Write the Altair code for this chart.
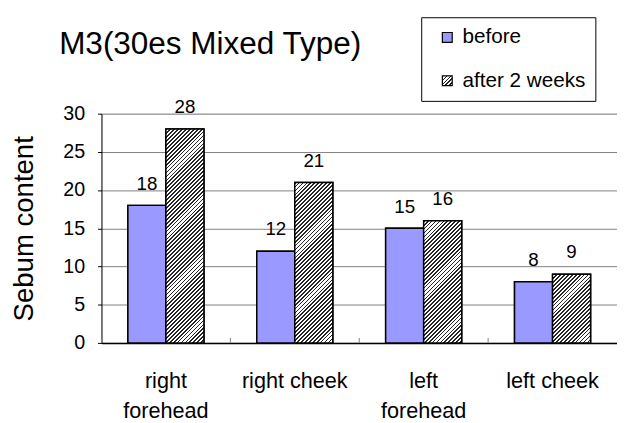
import altair as alt
import pandas as pd

# ---------------- data ----------------
categories = ["right forehead", "right cheek", "left forehead", "left cheek"]
series = ["before", "after 2 weeks"]
before_values = [18, 12, 15, 8]
after_values = [28, 21, 16, 9]
y_ticks = [0, 5, 10, 15, 20, 25, 30]

# ---------------- styles / layout ----------------
FONT = "Liberation Sans"
W, H = 524, 233
Y_MAX = 30
PAD_INNER = 0.41
PAD_OUTER = PAD_INNER / 2
BEFORE_COLOR = "#9999FF"
HATCH_DARK = "#262626"
HATCH_LIGHT = "#ffffff"
HATCH_PERIOD = 4.0
HATCH_DARK_FRAC = 0.45

step = W / len(categories)
bar_w = step * (1 - PAD_INNER) / 2


def hatch(value):
    """Diagonal hatch gradient for one bar (style only)."""
    h = value * H / Y_MAX
    w = bar_w
    unit = w / (w * w + h * h)
    stops = []
    s = 0.0
    smax = w + h
    while s < smax:
        a = round(s * unit, 5)
        b = round(min((s + HATCH_PERIOD * HATCH_DARK_FRAC) * unit, 1.0), 5)
        c = round(min((s + HATCH_PERIOD) * unit, 1.0), 5)
        stops += [
            {"offset": a, "color": HATCH_DARK},
            {"offset": b, "color": HATCH_DARK},
            {"offset": b, "color": HATCH_LIGHT},
            {"offset": c, "color": HATCH_LIGHT},
        ]
        s += HATCH_PERIOD
    return {"gradient": "linear", "x1": 0, "y1": 0, "x2": 1, "y2": h / w, "stops": stops}


def legend_hatch_expr(periods=5):
    parts = []
    for k in range(periods):
        a = k / periods
        b = (k + HATCH_DARK_FRAC) / periods
        c = (k + 1) / periods
        parts += [
            f"{{offset:{a:.3f},color:'{HATCH_DARK}'}}",
            f"{{offset:{b:.3f},color:'{HATCH_DARK}'}}",
            f"{{offset:{b:.3f},color:'{HATCH_LIGHT}'}}",
            f"{{offset:{c:.3f},color:'{HATCH_LIGHT}'}}",
        ]
    return "{gradient:'linear',x1:0,y1:0,x2:1,y2:1,stops:[" + ",".join(parts) + "]}"


records = []
for cat, b, a in zip(categories, before_values, after_values):
    records.append({"cat": cat, "series": series[0], "value": b, "paint": BEFORE_COLOR})
    records.append({"cat": cat, "series": series[1], "value": a, "paint": hatch(a)})

data = alt.Data(values=records)
tick_data = alt.Data(values=[{"cat": c} for c in categories])

x_enc = alt.X(
    "cat:N",
    sort=categories,
    scale=alt.Scale(domain=categories, paddingInner=PAD_INNER, paddingOuter=PAD_OUTER),
    axis=alt.Axis(
        title=None,
        labelAngle=0,
        labelFontSize=22,
        labelFont=FONT,
        labelColor="black",
        labelLineHeight=31,
        labelPadding=28,
        labelExpr="indexof(datum.label, 'forehead') >= 0 ? split(datum.label, ' ') : datum.label",
        ticks=False,
        domainColor="black",
        domainWidth=1.5,
    ),
)
xoff_enc = alt.XOffset(
    "series:N", sort=series, scale=alt.Scale(domain=series, paddingInner=0, paddingOuter=0)
)
y_enc = alt.Y(
    "value:Q",
    scale=alt.Scale(domain=[0, Y_MAX], nice=False),
    axis=alt.Axis(
        values=y_ticks,
        tickCount=7,
        labelOverlap=False,
        title="Sebum content",
        titleFontSize=28,
        titleFont=FONT,
        titleFontWeight="normal",
        titleColor="black",
        titleAngle=270,
        titleBaseline="alphabetic",
        titleX=-70,
        titleY=H / 2,
        labelFontSize=20,
        labelFont=FONT,
        labelColor="black",
        labelPadding=13,
        tickSize=4,
        tickColor="black",
        domainColor="black",
        gridColor="#808080",
        gridWidth=1,
    ),
)

legend_bars = alt.Chart(data).mark_bar(stroke="black", strokeWidth=1.5).encode(
    x=x_enc,
    xOffset=xoff_enc,
    y=y_enc,
    fill=alt.Fill(
        "series:N",
        sort=series,
        scale=alt.Scale(domain=series, range=[BEFORE_COLOR, {"expr": legend_hatch_expr()}]),
        legend=alt.Legend(
            title=None,
            orient="none",
            legendX=325,
            legendY=-98,
            direction="vertical",
            symbolType="square",
            symbolSize=100,
            symbolStrokeColor="black",
            symbolStrokeWidth=1.2,
            symbolOffset=6,
            labelFontSize=21,
            labelFont=FONT,
            labelColor="black",
            labelOffset=5,
            labelLimit=400,
            strokeColor="black",
            fillColor="white",
            padding=10,
            rowPadding=22,
        ),
    ),
)

hatch_bars = alt.Chart(data).mark_bar(stroke="black", strokeWidth=1.5).encode(
    x=x_enc,
    xOffset=xoff_enc,
    y=y_enc,
    fill=alt.Fill("paint:N", scale=None),
)

labels = alt.Chart(data).mark_text(
    dy=-16, baseline="alphabetic", fontSize=19, font=FONT, color="black"
).encode(
    x=x_enc,
    xOffset=xoff_enc,
    y=y_enc,
    text=alt.Text("value:Q"),
)

ticks = alt.Chart(tick_data).mark_rule(
    color="#808080", strokeWidth=1, xOffset=-PAD_OUTER * step
).encode(
    x=alt.X("cat:N", sort=categories, bandPosition=0),
    y=alt.value(H),
    y2=alt.value(H - 5),
)

chart = (
    alt.layer(legend_bars, hatch_bars, labels, ticks)
    .properties(
        width=W,
        height=H,
        autosize=alt.AutoSizeParams(type="none"),
        padding={"left": 95, "top": 104, "right": 0, "bottom": 78},
        title=alt.TitleParams(
            "M3(30es Mixed Type)",
            anchor="start",
            frame="group",
            fontSize=32,
            font=FONT,
            fontWeight="normal",
            color="black",
            dx=-43,
            dy=128,
            baseline="alphabetic",
            offset=58,
        ),
    )
    .configure_view(stroke=None)
    .configure(background="white")
)

chart.save("out.html", embed_options={"renderer": "svg", "actions": False})
